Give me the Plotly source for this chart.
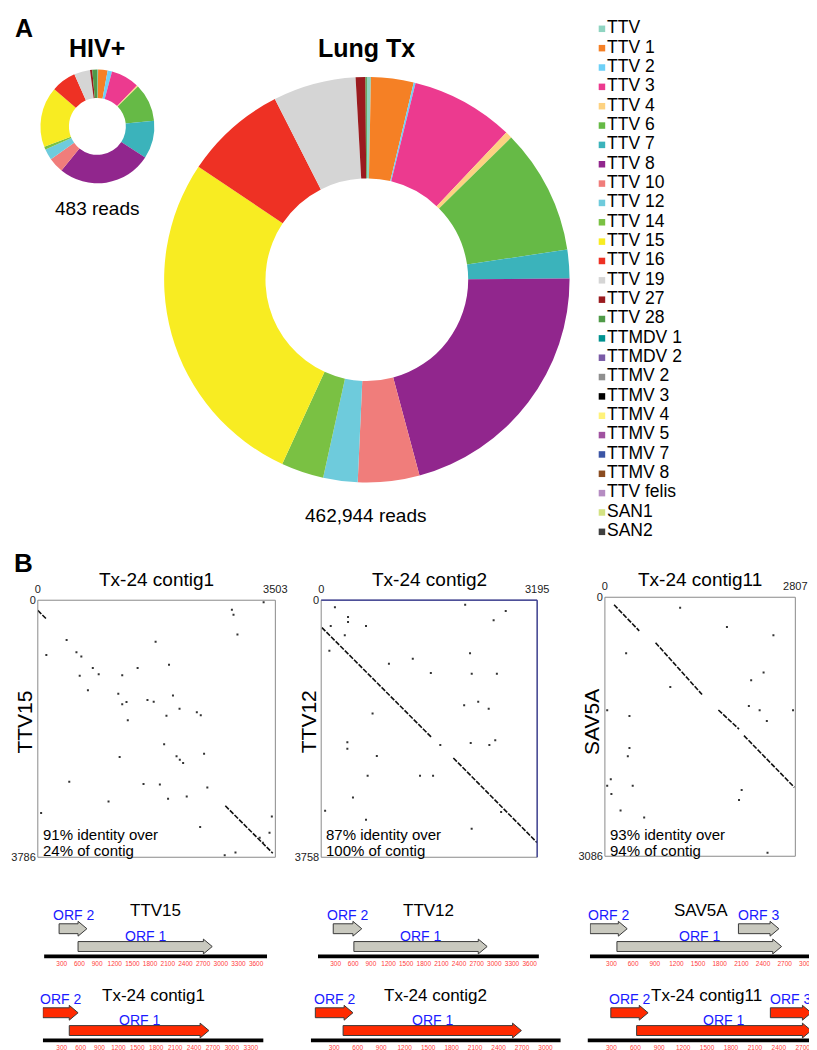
import plotly.graph_objects as go

W, H = 817, 1050
FONT = "Liberation Sans, Arial, Helvetica, sans-serif"

# ---------------- Panel A : read distributions ----------------
categories = ["TTV", "TTV 1", "TTV 2", "TTV 3", "TTV 4", "TTV 6", "TTV 7", "TTV 8",
              "TTV 10", "TTV 12", "TTV 14", "TTV 15", "TTV 16", "TTV 19", "TTV 27",
              "TTV 28", "TTMDV 1", "TTMDV 2", "TTMV 2", "TTMV 3", "TTMV 4", "TTMV 5",
              "TTMV 7", "TTMV 8", "TTV felis", "SAN1", "SAN2"]
colors = ["#8fd4c1", "#f58025", "#6dd0f7", "#ec3a8f", "#fdd281", "#66ba46", "#3bb3bb",
          "#91268d", "#f07d7b", "#6ecbdc", "#7ac143", "#f8ec22", "#ee3124", "#d5d5d5",
          "#9a1b1f", "#4f9a47", "#00928f", "#7a5aa6", "#8f8f8f", "#000000", "#fff27a",
          "#a052a0", "#3b55a5", "#8b4c20", "#b58cc2", "#d3e282", "#3f3f3f"]
hiv_reads = [1, 13, 6, 39, 2, 52, 52, 129, 21, 15, 4, 83, 34, 22, 3, 7,
             0, 0, 0, 0, 0, 0, 0, 0, 0, 0, 0]
lung_reads = [1500, 15700, 700, 38000, 2500, 46300, 10600, 96800, 22700, 12700, 15700,
              127544, 37500, 30600, 3600, 500, 0, 0, 0, 0, 0, 0, 0, 0, 0, 0, 0]
hiv_label = "483 reads"
lung_label = "462,944 reads"

# ---------------- Panel B : dot plots ----------------
contig_names = ["Tx-24 contig1", "Tx-24 contig2", "Tx-24 contig11"]
contig_lengths = [3503, 3195, 2807]
ref_names = ["TTV15", "TTV12", "SAV5A"]
ref_lengths = [3786, 3758, 3086]
identity_pct = [91, 87, 93]
coverage_pct = [24, 100, 94]

# alignment runs: (contig start, ref start, contig end, ref end)
p1_runs = [(0, 150, 136, 286), (2765, 3028, 3465, 3727)]
p2_runs = [(10, 400, 1631, 2004), (1955, 2307, 3195, 3545)]
p3_runs = [(135, 90, 506, 400), (747, 542, 1432, 1159), (1673, 1343, 1977, 1571),
           (2050, 1649, 2793, 2265)]

p1_dot_x = [2862, 2886, 2944, 3330, 425, 1737, 126, 570, 642, 811, 1472, 1935, 618, 898,
            1245, 739, 1187, 1993, 1245, 1308, 1617, 1709, 2090, 2345, 2403, 1897, 1327,
            1863, 2452, 1207, 2046, 2094, 2143, 464, 1559, 1800, 2500, 1921, 2196, 1043,
            49, 2394, 3451, 3417, 3272, 3320, 2756, 2915]
p1_dot_y = [141, 213, 505, 29, 587, 612, 806, 767, 830, 1000, 1000, 951, 1111, 1092,
            1107, 1325, 1378, 1403, 1534, 1500, 1470, 1495, 1597, 1650, 1694, 1703, 1767,
            2121, 2262, 2310, 2300, 2349, 2397, 2674, 2708, 2713, 2757, 2926, 2892, 2965,
            3135, 3339, 3184, 3426, 3499, 3572, 3756, 3717]
p2_dot_x = [203, 2130, 2730, 397, 397, 141, 663, 349, 2551, 121, 1002, 1355, 2202, 1622,
            2227, 2599, 2115, 2323, 2478, 760, 387, 387, 1762, 2212, 2488, 2575, 823,
            470, 58, 663, 2226, 2662, 687, 1462, 1655]
p2_dot_y = [101, 68, 159, 246, 318, 376, 376, 511, 294, 737, 930, 857, 776, 1065, 1074,
            1074, 1537, 1484, 1585, 1657, 2076, 2173, 2115, 2086, 2115, 2047, 2278,
            2886, 3078, 3208, 3343, 3097, 2568, 2568, 2568]
p3_dot_x = [1109, 1799, 2484, 313, 2156, 2339, 964, 34, 362, 2122, 2281, 2387, 2773, 362,
            338, 87, 34, 96, 410, 231, 579, 2016, 1977, 2397]
p3_dot_y = [126, 353, 452, 668, 990, 895, 1068, 1347, 1414, 1296, 1347, 1473, 1347, 1795,
            1893, 2167, 2246, 2344, 2246, 2540, 2623, 2297, 2415, 3043]

# ---------------- Panel B : ORF maps ----------------
genome_names = ["TTV15", "Tx-24 contig1", "TTV12", "Tx-24 contig2", "SAV5A", "Tx-24 contig11"]
genome_lengths = [3786, 3503, 3758, 3195, 3086, 2807]
orf_names = [["ORF 2", "ORF 1"], ["ORF 2", "ORF 1"], ["ORF 2", "ORF 1"],
             ["ORF 2", "ORF 1"], ["ORF 2", "ORF 1", "ORF 3"], ["ORF 2", "ORF 1", "ORF 3"]]
orf_starts = [[255, 577], [0, 420], [260, 611], [58, 413], [4, 375, 2059], [292, 616, 2294]]
orf_ends = [[727, 2855], [560, 2636], [745, 2877], [539, 2692], [517, 2657, 2620],
            [760, 2807, 2807]]
tick_step = 300

# ---------------- layout geometry (pixels) ----------------
def dx(a, b):
    return [a / W, b / W]


def dy(top, bottom):
    return [1 - bottom / H, 1 - top / H]


def pxx(x):
    return x / W


def pyy(y):
    return 1 - y / H


fig = go.Figure()
layout = dict(width=W, height=H, margin=dict(l=0, r=0, t=0, b=0),
              paper_bgcolor="white", plot_bgcolor="rgba(0,0,0,0)",
              font=dict(family=FONT, color="black"), showlegend=False)
annotations = []
shapes = []

# pies
fig.add_trace(go.Pie(labels=categories, values=hiv_reads, hole=0.5, sort=False,
                     direction="clockwise", rotation=0, textinfo="none",
                     marker=dict(colors=colors, line=dict(width=0)),
                     domain=dict(x=dx(30, 146), y=dy(55.7, 171.7)), showlegend=False))
fig.add_trace(go.Pie(labels=categories, values=lung_reads, hole=0.5, sort=False,
                     direction="clockwise", rotation=0, textinfo="none",
                     marker=dict(colors=colors, line=dict(width=0)),
                     domain=dict(x=dx(156, 569), y=dy(62.3, 475.3)), showlegend=False))

def ann(text, x, y, size, bold=False, xanchor="center", yanchor="middle",
        xref="paper", yref="paper", color="black", angle=0):
    annotations.append(dict(text=("<b>%s</b>" % text) if bold else text, x=x, y=y,
                            xref=xref, yref=yref, showarrow=False, xanchor=xanchor,
                            yanchor=yanchor, textangle=angle,
                            font=dict(size=size, color=color, family=FONT)))

ann("A", pxx(2), pyy(14), 25, bold=True, xanchor="left")
ann("HIV+", pxx(88), pyy(34), 25, bold=True)
ann("Lung Tx", pxx(362), pyy(34), 25, bold=True)
ann(hiv_label, pxx(88), pyy(197), 19)
ann(lung_label, pxx(362), pyy(507), 19)
ann("B", pxx(1), pyy(555), 26, bold=True, xanchor="left")

# legend (axis 10)
fig.add_trace(go.Scatter(x=[0] * len(categories), y=list(range(len(categories))),
                         mode="markers+text", text=categories, textposition="middle right",
                         marker=dict(symbol="square", size=6.5, color=colors),
                         textfont=dict(size=17.5, family=FONT, color="black"),
                         xaxis="x10", yaxis="y10", cliponaxis=False, hoverinfo="skip"))
layout["xaxis10"] = dict(domain=dx(602, 817), range=[0, 215], visible=False, anchor="y10")
layout["yaxis10"] = dict(domain=dy(5.2, 533.6), range=[len(categories) - 0.5, -0.5],
                         visible=False, anchor="x10")

# dot plots (axes 1..3)
dot_boxes = [(27.3, 593, 269.3, 853), (316, 593, 536, 853), (605, 590, 799, 852)]
runs_all = [p1_runs, p2_runs, p3_runs]
dots_all = [(p1_dot_x, p1_dot_y), (p2_dot_x, p2_dot_y), (p3_dot_x, p3_dot_y)]
for i in range(3):
    n = i + 1
    xa = "x" if n == 1 else "x%d" % n
    ya = "y" if n == 1 else "y%d" % n
    l, t, r, b = dot_boxes[i]
    Lx, Ly = contig_lengths[i], ref_lengths[i]
    layout["xaxis" if n == 1 else "xaxis%d" % n] = dict(
        domain=dx(l, r), range=[0, Lx], anchor=ya, side="top", showgrid=False,
        zeroline=False, showline=False, ticks="", tickvals=[0, Lx],
        ticktext=["0", str(Lx)], ticklabelstandoff=4, tickfont=dict(size=11, color="#222"))
    layout["yaxis" if n == 1 else "yaxis%d" % n] = dict(
        domain=dy(t, b), range=[Ly, 0], anchor=xa, showgrid=False, zeroline=False,
        showline=False, ticks="", tickvals=[0, Ly], ticktext=["0", str(Ly)],
        ticklabelstandoff=1, tickfont=dict(size=11, color="#222"))
    sx, sy = [], []
    for (a0, b0, a1, b1) in runs_all[i]:
        sx += [a0, a1, None]
        sy += [b0, b1, None]
    fig.add_trace(go.Scatter(x=sx, y=sy, mode="lines", xaxis=xa, yaxis=ya,
                             line=dict(color="#111", width=1.6, dash="5px,1.5px"),
                             hoverinfo="skip"))
    fig.add_trace(go.Scatter(x=dots_all[i][0], y=dots_all[i][1], mode="markers",
                             xaxis=xa, yaxis=ya,
                             marker=dict(symbol="square", size=2, color="#333"),
                             hoverinfo="skip"))
    shapes.append(dict(type="rect", xref=xa + " domain", yref=ya + " domain", x0=0, x1=1,
                       y0=0, y1=1, line=dict(color="#8a8a8a", width=1)))
    if n == 2:
        shapes.append(dict(type="line", xref=xa + " domain", yref=ya + " domain", x0=0,
                           x1=1, y0=1, y1=1, line=dict(color="#2e3192", width=1.2)))
        shapes.append(dict(type="line", xref=xa + " domain", yref=ya + " domain", x0=1,
                           x1=1, y0=0, y1=1, line=dict(color="#2e3192", width=1.2)))
    ann(contig_names[i], pxx((l + r) / 2), pyy(572.5), 19)
    ann(ref_names[i], pxx(l - 13 if n != 1 else 14), pyy(716), 21, angle=-90)
    ann("%d%% identity over" % identity_pct[i], pxx(l + 3), pyy(830), 15, xanchor="left")
    ann("%d%% of contig" % coverage_pct[i], pxx(l + 3), pyy(846), 15, xanchor="left")

# ORF maps (axes 4..9)
diag_x0 = [33.7, 32.4, 312.7, 305.4, 589.7, 587.3]
diag_scale = [0.0600, 0.0642, 0.0599, 0.0797, 0.0735, 0.0812]
diag_bar_y = [953.3, 1038.3, 953.3, 1038.3, 953.3, 1038.3]
diag_title_shift = [0, 0, 0, 0, 0, 7]
diag_fill = ["#c9c9bf", "#ff2a00", "#c9c9bf", "#ff2a00", "#c9c9bf", "#ff2a00"]
orf_level = {"ORF 1": 10, "ORF 2": 28, "ORF 3": 28}
label_level = {"ORF 1": 21, "ORF 2": 41.5, "ORF 3": 41.5}
for k in range(6):
    n = k + 4
    xa, ya = "x%d" % n, "y%d" % n
    L = genome_lengths[k]
    x0 = diag_x0[k]
    sc = diag_scale[k]
    by = diag_bar_y[k]
    layout["xaxis%d" % n] = dict(
        domain=dx(x0, x0 + L * sc), range=[0, L], anchor=ya, showgrid=False,
        zeroline=False, showline=False, ticks="",
        tickvals=list(range(tick_step, L, tick_step)),
        tickfont=dict(size=6.5, color="#ff4040"))
    layout["yaxis%d" % n] = dict(domain=dy(by - 55, by + 2), range=[-2, 55], anchor=xa,
                                 visible=False)
    shapes.append(dict(type="rect", xref=xa, yref=ya, x0=0, x1=L, y0=-2, y1=2,
                       fillcolor="black", line=dict(width=0), layer="below"))
    head = 9 / sc
    for name, s, e in zip(orf_names[k], orf_starts[k], orf_ends[k]):
        yc = orf_level[name]
        hb = e - head
        path = ("M %f,%f L %f,%f L %f,%f L %f,%f L %f,%f L %f,%f L %f,%f Z" %
                (s, yc - 5, hb, yc - 5, hb, yc - 7.5, e, yc, hb, yc + 7.5, hb, yc + 5, s, yc + 5))
        shapes.append(dict(type="path", xref=xa, yref=ya, path=path,
                           fillcolor=diag_fill[k], line=dict(color="#3a3a3a", width=1)))
        ann(name, (s + e) / 2, label_level[name], 14, xref=xa, yref=ya, color="#1a1aff")
    mid_px = x0 + L * sc / 2 + diag_title_shift[k]
    ann(genome_names[k], pxx(mid_px), 46 if by < 1000 else 45.6, 17, yref=ya)

layout["annotations"] = annotations
layout["shapes"] = shapes
fig.update_layout(**layout)
fig.write_html("out.html")
